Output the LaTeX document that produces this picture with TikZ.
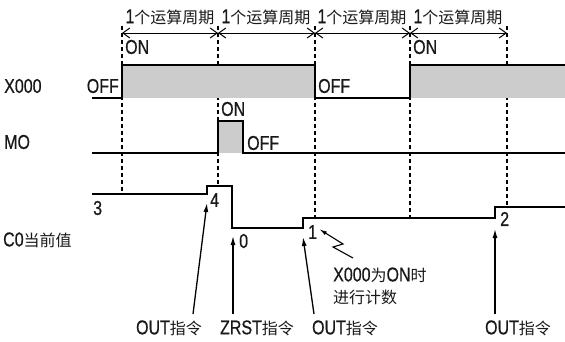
\documentclass[tikz,border=0pt]{standalone}
\usepackage{fontspec}
\setmainfont{Noto Sans CJK SC}
\newfontfamily\latf{Liberation Sans}[FakeStretch=0.8,FakeBold=0.6]
\newcommand\LT[1]{{\fontsize{20}{22}\selectfont\latf #1}}
\usetikzlibrary{arrows.meta}
\begin{document}
\begin{tikzpicture}[x=1pt,y=-1pt,
  sig/.style={line width=1.6pt, line join=miter},
  dsh/.style={line width=1.3pt, dash pattern=on 4pt off 3pt},
  gfill/.style={fill=black!20, draw=none},
  lbl/.style={font=\fontsize{16}{18}\selectfont, inner sep=0pt, text=black!90},
  ltx/.style={font=\fontsize{20}{22}\selectfont\latf, inner sep=0pt, text=black!90},
  dim/.style={line width=1pt, {Straight Barb[length=7pt,width=10pt]}-{Straight Barb[length=7pt,width=10pt]}},
  ptr/.style={line width=1.3pt, -{Latex[length=9pt,width=5pt]}}]
\useasboundingbox (0,0) rectangle (565,341);

% cycle boundaries
\coordinate (t0) at (122,33);
\coordinate (t1) at (218,33);
\coordinate (t2) at (315,33);
\coordinate (t3) at (410,33);
\coordinate (t4) at (507,33);
\draw[dsh] (122,26) -- (122,193);
\draw[dsh] (218,26) -- (218,185);
\draw[dsh] (315,26) -- (315,217);
\draw[dsh] (410,26) -- (410,217);
\draw[dsh] (507,26) -- (507,206);

% dimension arrows
\draw[dim] (t0) -- (t1);
\draw[dim] (t1) -- (t2);
\draw[dim] (t2) -- (t3);
\draw[dim] (t3) -- (t4);
\node[lbl] (c1) at (170,17) {\LT{1}个运算周期};
\node[lbl] (c2) at (266,17) {\LT{1}个运算周期};
\node[lbl] (c3) at (362,17) {\LT{1}个运算周期};
\node[lbl] (c4) at (458,17) {\LT{1}个运算周期};

% X000
\fill[gfill] (122,65) rectangle (315,98);
\fill[gfill] (410,65) rectangle (565,98);
\draw[sig] (92,98) -- (122,98) -- (122,65) -- (315,65) -- (315,98) -- (410,98) -- (410,65) -- (565,65);
\node[ltx, anchor=west] (xl) at (4,86) {X000};
\node[ltx, anchor=east] (xoff1) at (119,86) {OFF};
\node[ltx, anchor=west] (xon1) at (125,47) {ON};
\node[ltx, anchor=west] (xoff2) at (318,86) {OFF};
\node[ltx, anchor=west] (xon2) at (413,47) {ON};

% M0
\fill[gfill] (218,121) rectangle (243,153);
\draw[sig] (92,153) -- (218,153) -- (218,121) -- (243,121) -- (243,153) -- (565,153);
\node[ltx, anchor=west] (ml) at (4,142) {MO};
\node[ltx, anchor=west] (mon) at (221,109) {ON};
\node[ltx, anchor=west] (moff) at (247,143) {OFF};

% C0
\draw[sig] (92,194) -- (207,194) -- (207,186) -- (232,186) -- (232,228) -- (303,228) -- (303,218) -- (495,218) -- (495,207) -- (565,207);
\node[lbl, anchor=west] (cl) at (3,240) {\LT{C0}当前值};
\node[ltx, anchor=west] (v3) at (93,208) {3};
\node[ltx, anchor=west] (v4) at (210,200) {4};
\node[ltx, anchor=west] (v0) at (239,241) {0};
\node[ltx, anchor=west] (v1) at (308,232) {1};
\node[ltx, anchor=west] (v2) at (500,219) {2};

% instruction arrows
\node[lbl] (o1) at (169,328) {\LT{OUT}指令};
\node[lbl] (zr) at (257,328) {\LT{ZRST}指令};
\node[lbl] (o2) at (345,328) {\LT{OUT}指令};
\node[lbl] (o3) at (518,328) {\LT{OUT}指令};
\coordinate (a1s) at (193,314);
\coordinate (a1e) at (207,203);
\coordinate (a2s) at (233,314);
\coordinate (a2e) at (233,236);
\coordinate (a3s) at (314,314);
\coordinate (a3e) at (303,237);
\coordinate (a4s) at (495,314);
\coordinate (a4e) at (495,229);
\draw[ptr] (a1s) -- (a1e);
\draw[ptr] (a2s) -- (a2e);
\draw[ptr] (a3s) -- (a3e);
\draw[ptr] (a4s) -- (a4e);

% note with lightning arrow
\coordinate (z0) at (353,258);
\coordinate (z1) at (333,247);
\coordinate (z2) at (343,244);
\coordinate (z3) at (319,229);
\draw[line width=1.1pt, line join=miter, -{Latex[length=8pt,width=4pt]}] (z0) -- (z1) -- (z2) -- (z3);
\node[lbl, anchor=west] (n1) at (333,275) {\LT{X000}为\LT{ON}时};
\node[lbl, anchor=west] (n2) at (333,297) {进行计数};
\end{tikzpicture}
\end{document}
